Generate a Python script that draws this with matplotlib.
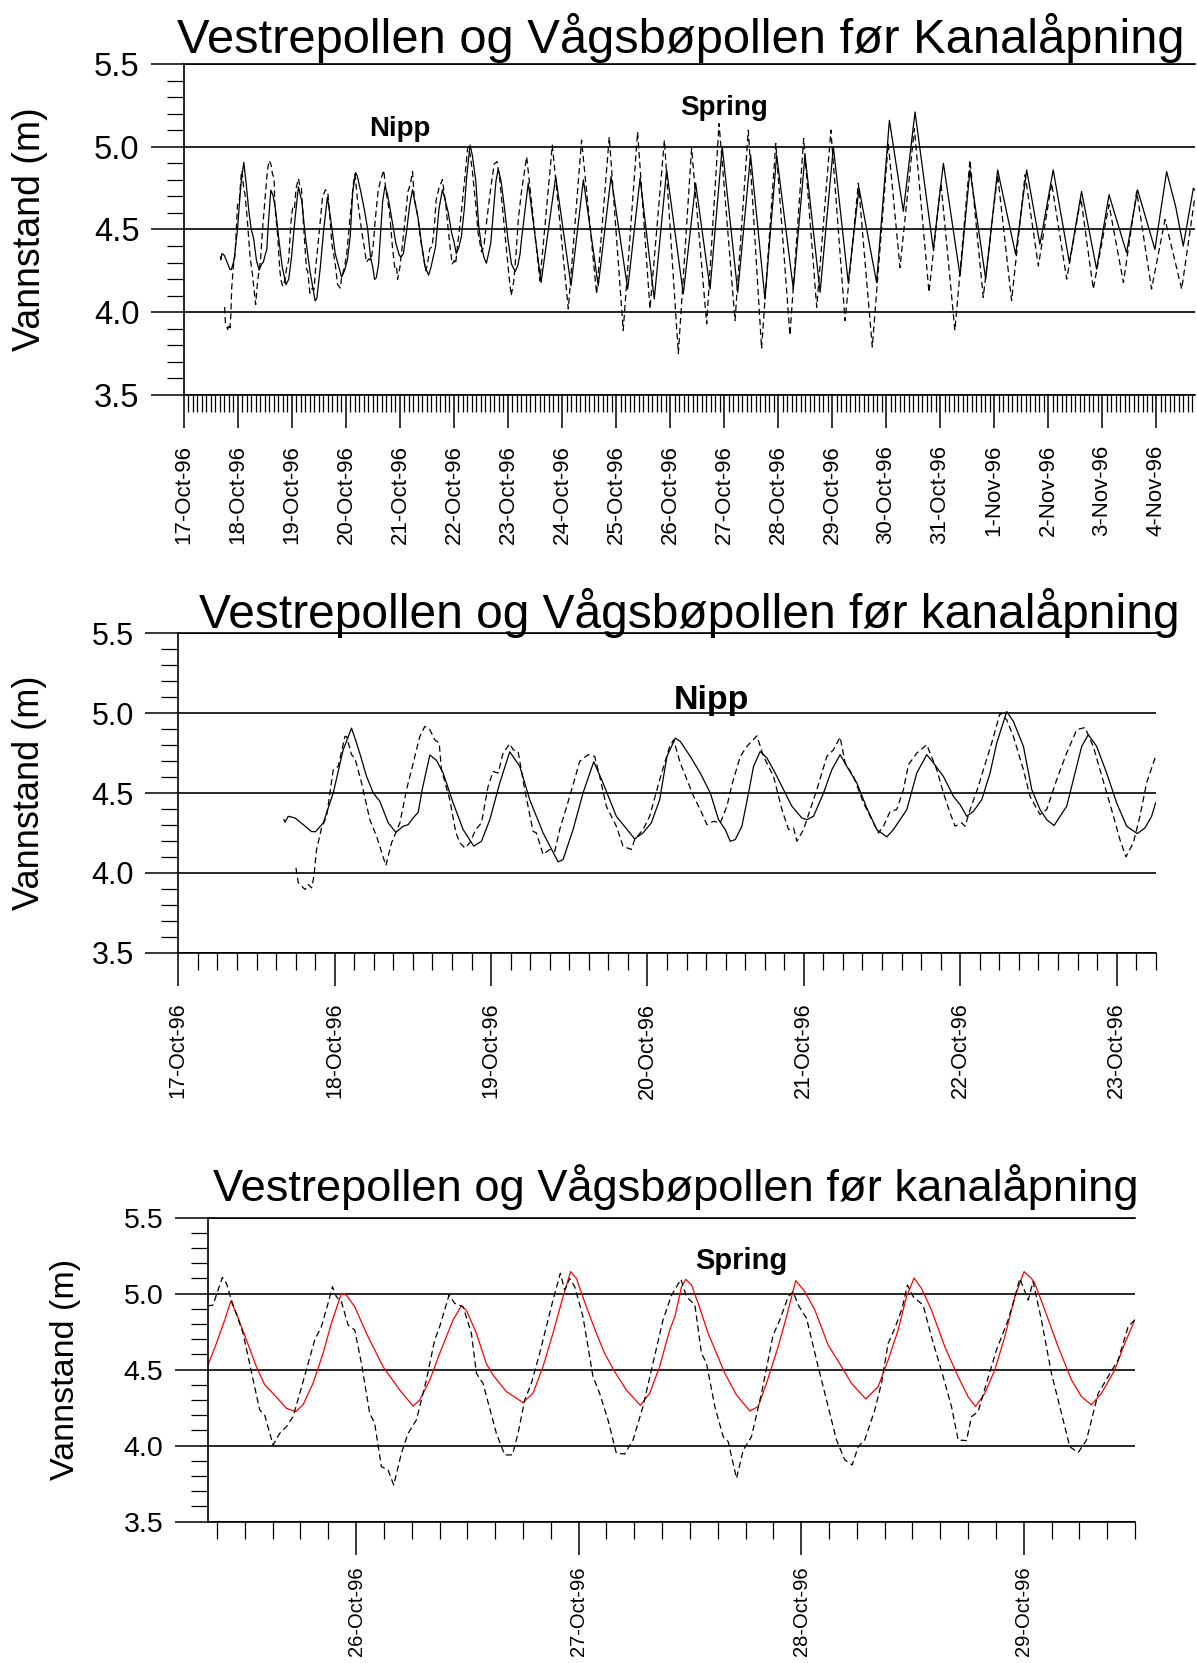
import pandas as pd
import matplotlib
matplotlib.use("Agg")
import matplotlib.pyplot as plt
import matplotlib.dates as mdates
from matplotlib.ticker import MultipleLocator, FormatStrFormatter

plt.rcParams["font.family"] = ["Liberation Sans", "DejaVu Sans"]

START = pd.Timestamp("1996-10-17 00:00")   # hours below count from here
START26 = pd.Timestamp("1996-10-26 00:00")  # panel 3 hours count from here

# ---------------------------------------------------------------
# Vannstand 17-23 Oct, hours since 17-Oct 00:00
# ---------------------------------------------------------------
vest_h = [16.2, 16.36, 16.87, 17.89, 19.17, 20.45, 21.06, 22.24, 23.77, 25.3,
          26.58, 27.35, 27.96, 28.88, 29.91, 30.93, 32.21, 33.38, 34.51, 35.27,
          36.04, 36.81, 37.42, 38.6, 39.62, 40.64, 42.17, 43.71, 45.34, 46.52,
          47.8, 49.33, 50.86, 52.4, 53.93, 55.98, 58.28, 59.04, 60.58, 62.11,
          63.75, 65.18, 67.22, 70.03, 71.31, 72.59, 73.87, 74.99, 76.27, 77.03,
          78.57, 80.1, 81.64, 82.91, 83.94, 84.7, 85.47, 86.49, 87.51, 88.28,
          89.3, 90.33, 91.6, 92.88, 94.16, 95.69, 96.46, 97.48, 99.02, 100.29,
          101.57, 102.59, 104.13, 105.66, 107.2, 108.73, 109.75, 111.8, 113.33, 114.86,
          115.89, 117.42, 118.95, 119.98, 121.0, 122.02, 123.3, 124.58, 125.6, 127.14,
          128.16, 129.7, 130.98, 132.25, 133.28, 134.4, 135.32, 136.34, 137.36, 138.64,
          139.66, 140.94, 142.47, 144.01, 145.54, 147.18, 148.35, 149.37, 149.99]
vest_v = [4.333, 4.317, 4.354, 4.344, 4.302, 4.258, 4.258, 4.313, 4.5, 4.771,
          4.906, 4.813, 4.733, 4.604, 4.5, 4.448, 4.313, 4.254, 4.292, 4.302,
          4.344, 4.379, 4.521, 4.738, 4.704, 4.625, 4.438, 4.271, 4.167, 4.198,
          4.333, 4.563, 4.758, 4.667, 4.458, 4.25, 4.069, 4.083, 4.271, 4.5,
          4.696, 4.563, 4.354, 4.213, 4.25, 4.313, 4.458, 4.729, 4.844, 4.823,
          4.729, 4.625, 4.5, 4.333, 4.271, 4.198, 4.208, 4.292, 4.5, 4.667,
          4.76, 4.719, 4.625, 4.521, 4.417, 4.344, 4.333, 4.354, 4.5, 4.646,
          4.74, 4.667, 4.563, 4.406, 4.271, 4.225, 4.271, 4.396, 4.625, 4.74,
          4.688, 4.604, 4.479, 4.427, 4.354, 4.385, 4.458, 4.625, 4.813, 5.01,
          4.948, 4.792, 4.521, 4.396, 4.333, 4.296, 4.354, 4.417, 4.583, 4.792,
          4.865, 4.792, 4.625, 4.438, 4.292, 4.246, 4.281, 4.354, 4.438]

vaag_h = [18.05, 18.4, 19.43, 19.94, 20.45, 20.81, 21.21, 21.98, 22.75, 23.77,
          24.54, 25.56, 25.82, 26.58, 27.09, 28.12, 29.39, 30.42, 31.85, 32.72,
          34.0, 35.02, 37.06, 37.83, 38.6, 39.36, 40.03, 40.38, 41.66, 42.58,
          43.2, 43.96, 44.73, 45.65, 46.52, 47.54, 48.31, 49.08, 49.84, 50.86,
          51.38, 52.14, 53.16, 54.44, 54.95, 55.98, 57.0, 57.77, 58.53, 60.07,
          61.6, 62.88, 63.9, 64.67, 65.69, 67.22, 68.25, 69.52, 70.03, 71.31,
          72.33, 73.87, 75.4, 76.0, 77.03, 79.08, 80.1, 81.12, 82.15, 83.17,
          84.19, 84.96, 86.24, 87.26, 88.79, 89.81, 91.35, 92.63, 93.65, 94.42,
          94.93, 95.95, 96.97, 97.99, 99.53, 100.55, 101.57, 102.34, 103.62, 105.15,
          106.68, 107.45, 108.22, 109.24, 110.26, 111.28, 112.05, 113.33, 114.86, 115.37,
          116.4, 117.42, 118.44, 119.21, 120.23, 120.74, 121.51, 122.79, 123.55, 124.83,
          126.11, 127.13, 128.16, 129.69, 130.71, 132.24, 133.27, 134.8, 136.33, 137.87,
          139.14, 140.42, 141.44, 143.23, 144.51, 145.43, 146.56, 147.58, 148.6, 149.98]
vaag_v = [4.031, 3.938, 3.896, 3.927, 3.906, 3.979, 4.146, 4.281, 4.354, 4.646,
          4.667, 4.854, 4.854, 4.74, 4.719, 4.563, 4.333, 4.229, 4.046, 4.188,
          4.313, 4.521, 4.854, 4.917, 4.896, 4.833, 4.813, 4.646, 4.458, 4.254,
          4.188, 4.156, 4.188, 4.271, 4.313, 4.542, 4.635, 4.625, 4.75, 4.808,
          4.771, 4.76, 4.521, 4.26, 4.25, 4.115, 4.146, 4.135, 4.271, 4.479,
          4.698, 4.74, 4.729, 4.604, 4.417, 4.292, 4.167, 4.146, 4.208, 4.271,
          4.354, 4.583, 4.79, 4.833, 4.688, 4.479, 4.396, 4.302, 4.323, 4.313,
          4.417, 4.552, 4.729, 4.792, 4.858, 4.729, 4.604, 4.396, 4.271, 4.281,
          4.198, 4.271, 4.396, 4.521, 4.729, 4.771, 4.85, 4.688, 4.604, 4.438,
          4.313, 4.25, 4.292, 4.385, 4.396, 4.521, 4.677, 4.75, 4.802, 4.75,
          4.646, 4.5, 4.375, 4.292, 4.313, 4.292, 4.396, 4.542, 4.646, 4.813,
          5.0, 4.958, 4.854, 4.646, 4.479, 4.365, 4.396, 4.583, 4.75, 4.896,
          4.91, 4.792, 4.646, 4.396, 4.208, 4.10, 4.188, 4.354, 4.563, 4.729]

# ---------------------------------------------------------------
# Vannstand 23 Oct - 4 Nov, hours since 17-Oct 00:00
# ---------------------------------------------------------------
vest_late_h = [153.0, 158.7, 165.2, 172.0, 177.5, 184.1, 189.8, 197.2, 202.7, 209.0,
               214.5, 221.9, 227.4, 233.8, 239.2, 246.1, 251.8, 258.2, 263.4, 270.8,
               276.0, 282.7, 288.6, 295.2, 300.0, 307.8, 313.5, 319.7, 324.9, 333.0,
               337.5, 344.9, 349.3, 356.3, 361.6, 369.6, 374.5, 380.4, 386.3, 393.5,
               398.9, 405.6, 411.1, 418.9, 423.8, 431.5, 436.7, 440.7, 444.1, 448.6,
               450.2]
vest_late_v = [4.78, 4.18, 4.82, 4.16, 4.80, 4.16, 4.82, 4.14, 4.81, 4.08,
               4.86, 4.11, 4.78, 4.14, 5.00, 4.12, 4.95, 4.08, 4.95, 4.14,
               4.95, 4.12, 5.00, 4.18, 4.75, 4.18, 5.16, 4.61, 5.21, 4.38,
               4.90, 4.22, 4.86, 4.20, 4.86, 4.35, 4.86, 4.41, 4.86, 4.30,
               4.73, 4.26, 4.71, 4.36, 4.74, 4.38, 4.85, 4.64, 4.40, 4.75,
               4.72]

vaag_late_h = [152.3, 158.2, 163.7, 170.8, 176.7, 183.4, 189.0, 195.2, 201.6, 207.1,
               213.5, 219.7, 225.6, 232.3, 237.8, 244.9, 250.8, 256.7, 263.0, 269.3,
               275.4, 281.2, 287.5, 293.8, 299.7, 305.9, 313.0, 318.2, 324.6, 331.1,
               336.4, 342.6, 349.3, 355.2, 361.6, 367.8, 373.8, 379.7, 385.6, 392.3,
               398.6, 404.1, 411.1, 417.5, 423.4, 430.0, 436.0, 443.4, 449.3]
vaag_late_v = [4.94, 4.19, 5.01, 4.02, 5.04, 4.11, 5.06, 3.89, 5.09, 4.02,
               5.04, 3.75, 4.99, 3.93, 5.14, 3.95, 5.10, 3.78, 5.02, 3.86,
               5.05, 4.03, 5.10, 3.95, 4.78, 3.79, 5.02, 4.27, 5.11, 4.12,
               4.78, 3.89, 4.92, 4.09, 4.83, 4.07, 4.83, 4.28, 4.78, 4.20,
               4.69, 4.14, 4.65, 4.18, 4.73, 4.14, 4.56, 4.14, 4.70]

# ---------------------------------------------------------------
# Spring period (bottom panel), hours since 26-Oct 00:00
# ---------------------------------------------------------------
red_h = [-16.03, -15.06, -14.16, -13.51, -12.9, -11.82, -10.75, -9.85, -8.59, -7.51,
         -6.5, -5.71, -4.64, -3.56, -2.66, -1.58, -1.04, -0.14, 1.11, 2.91,
         4.71, 6.15, 6.86, 7.94, 9.02, 10.46, 11.36, 11.9, 12.97, 14.05,
         14.77, 16.21, 17.11, 18.0, 19.08, 20.16, 21.24, 22.32, 23.14, 23.76,
         24.83, 25.91, 26.81, 27.89, 29.15, 30.66, 31.66, 32.74, 33.82, 34.38,
         35.1, 35.56, 36.18, 36.9, 37.97, 39.77, 41.03, 42.47, 43.36, 44.26,
         45.52, 46.42, 47.42, 48.4, 49.47, 50.91, 52.35, 53.43, 54.97, 56.3,
         57.38, 58.46, 59.36, 60.18, 60.97, 62.05, 63.49, 64.93, 66.0, 66.8,
         67.8, 68.88, 69.96, 71.04, 72.04, 72.83, 73.19, 74.27, 75.71, 77.15,
         78.23, 79.3, 80.38, 81.82, 82.9, 83.98]
red_v = [4.52, 4.673, 4.827, 4.952, 4.87, 4.695, 4.52, 4.40, 4.32, 4.246,
         4.224, 4.27, 4.41, 4.607, 4.805, 5.002, 4.99, 4.914, 4.74, 4.52,
         4.366, 4.26, 4.30, 4.43, 4.607, 4.827, 4.92, 4.89, 4.74, 4.54,
         4.465, 4.355, 4.32, 4.283, 4.344, 4.52, 4.74, 4.98, 5.145, 5.10,
         4.914, 4.74, 4.607, 4.487, 4.366, 4.265, 4.344, 4.52, 4.76, 4.849,
         5.046, 5.094, 5.057, 4.936, 4.739, 4.476, 4.333, 4.228, 4.257, 4.41,
         4.651, 4.849, 5.086, 5.013, 4.893, 4.662, 4.52, 4.41, 4.307, 4.388,
         4.564, 4.761, 4.98, 5.103, 5.035, 4.893, 4.651, 4.454, 4.322, 4.257,
         4.344, 4.498, 4.717, 4.98, 5.145, 5.10, 5.068, 4.893, 4.651, 4.432,
         4.322, 4.268, 4.344, 4.498, 4.673, 4.827]

dash_h = [-16.03, -15.42, -14.88, -14.41, -13.98, -13.44, -12.18, -11.1, -10.39, -9.85,
          -8.95, -8.23, -7.51, -6.79, -6.07, -5.36, -4.46, -3.74, -3.02, -2.55,
          -2.12, -1.58, -0.86, -0.14, 0.58, 1.47, 2.01, 2.73, 3.45, 4.06,
          4.89, 5.61, 6.51, 7.58, 8.48, 9.02, 10.03, 10.64, 11.54, 12.44,
          12.98, 13.69, 15.13, 16.03, 16.86, 17.47, 18.19, 18.9, 19.8, 20.7,
          21.24, 22.03, 22.5, 23.04, 23.58, 24.47, 25.55, 26.27, 27.17, 28.07,
          28.97, 29.87, 30.94, 32.02, 33.1, 34.02, 35.03, 35.64, 36.54, 37.25,
          37.79, 38.69, 39.59, 40.13, 41.03, 41.75, 42.64, 43.72, 44.98, 45.7,
          46.6, 47.14, 47.68, 48.58, 49.83, 50.91, 51.81, 52.71, 53.5, 54.15,
          54.86, 55.94, 56.66, 57.38, 58.1, 58.89, 59.46, 60.08, 61.15, 62.05,
          63.31, 64.21, 64.93, 65.83, 66.37, 67.08, 67.98, 69.06, 70.32, 70.97,
          71.58, 72.48, 73.01, 73.91, 74.99, 76.25, 76.97, 77.87, 78.77, 80.03,
          81.1, 82.18, 83.26, 83.98]
dash_v = [4.919, 4.925, 5.024, 5.107, 5.068, 4.958, 4.739, 4.432, 4.235, 4.20,
          4.004, 4.081, 4.125, 4.191, 4.344, 4.498, 4.695, 4.783, 4.936, 5.046,
          4.98, 4.947, 4.794, 4.761, 4.542, 4.213, 4.147, 3.862, 3.84, 3.741,
          3.95, 4.081, 4.169, 4.432, 4.695, 4.783, 4.991, 4.936, 4.914, 4.739,
          4.476, 4.41, 4.081, 3.939, 3.939, 4.081, 4.30, 4.41, 4.607, 4.827,
          4.958, 5.134, 5.024, 5.10, 5.046, 4.849, 4.454, 4.344, 4.169, 3.95,
          3.945, 4.037, 4.257, 4.542, 4.827, 4.99, 5.094, 4.98, 4.925, 4.607,
          4.542, 4.257, 4.059, 4.026, 3.785, 3.97, 4.059, 4.344, 4.728, 4.827,
          4.98, 5.013, 4.925, 4.838, 4.52, 4.257, 4.037, 3.906, 3.873, 3.993,
          4.037, 4.235, 4.41, 4.673, 4.772, 4.904, 5.057, 4.98, 4.925, 4.717,
          4.454, 4.257, 4.037, 4.033, 4.191, 4.224, 4.41, 4.629, 4.827, 4.958,
          5.10, 4.958, 5.079, 4.827, 4.476, 4.169, 3.993, 3.954, 4.037, 4.344,
          4.454, 4.564, 4.783, 4.827]

TITLE_UPPER = "Vestrepollen og Vågsbøpollen før Kanalåpning"
TITLE_LOWER = "Vestrepollen og Vågsbøpollen før kanalåpning"
YLABEL = "Vannstand (m)"


def stamp(base, hours):
    return base + pd.to_timedelta(hours, unit="h")


def style(ax, minor_step, xsize, xpad, ysize, ylab_x, ylab_size):
    ax.set_ylim(3.5, 5.5)
    ax.yaxis.set_major_locator(MultipleLocator(0.5))
    ax.yaxis.set_minor_locator(MultipleLocator(0.1))
    ax.yaxis.set_major_formatter(FormatStrFormatter("%.1f"))
    ax.xaxis.set_major_locator(mdates.DayLocator())
    ax.xaxis.set_minor_locator(mdates.HourLocator(byhour=range(0, 24, minor_step)))
    ax.xaxis.set_major_formatter(mdates.DateFormatter("%-d-%b-%y"))
    ax.grid(axis="y", which="major", color="k", lw=1.2)
    ax.set_axisbelow(True)
    ax.spines["right"].set_visible(False)
    for s in ("left", "bottom", "top"):
        ax.spines[s].set_linewidth(1.2)
    ax.tick_params(which="major", length=24, width=1.1, direction="out")
    ax.tick_params(which="minor", length=12, width=0.9, direction="out")
    ax.tick_params(axis="y", labelsize=ysize, pad=8)
    ax.tick_params(axis="x", labelrotation=90, labelsize=xsize, pad=xpad)
    ax.set_ylabel(YLABEL, fontsize=ylab_size, va="center")
    ax.yaxis.set_label_coords(ylab_x, 0.5)


fig = plt.figure(figsize=(11.97, 16.63), dpi=100)

# ---------------- top: whole period ----------------
ax1 = fig.add_axes([0.1537, 0.7625, 0.8446, 0.1990])
ax1.plot(stamp(START, vest_h + vest_late_h), vest_v + vest_late_v,
         color="k", lw=0.9)
ax1.plot(stamp(START, vaag_h + vaag_late_h), vaag_v + vaag_late_v,
         color="k", lw=0.9, dashes=(5, 3))
ax1.set_xlim(START, stamp(START, 449.3))
style(ax1, 2, 16, 12, 23.5, -0.1526, 27)
ax1.text(stamp(START, 96), 5.065, "Nipp", fontsize=20, fontweight="bold",
         ha="center", va="baseline")
ax1.text(stamp(START, 240), 5.19, "Spring", fontsize=20, fontweight="bold",
         ha="center", va="baseline")
fig.text(0.569, 0.9681, TITLE_UPPER, fontsize=35.2, ha="center", va="baseline")

# ---------------- middle: nipp ----------------
ax2 = fig.add_axes([0.1490, 0.4271, 0.8165, 0.1921])
ax2.plot(stamp(START, vest_h), vest_v, color="k", lw=0.9)
ax2.plot(stamp(START, vaag_h), vaag_v, color="k", lw=0.9, dashes=(5, 3))
ax2.set_xlim(START, stamp(START, 150))
style(ax2, 3, 15.5, 12, 22, -0.152, 26)
ax2.text(stamp(START, 81.8), 5.025, "Nipp", fontsize=24.5, fontweight="bold",
         ha="center", va="baseline")
fig.text(0.5756, 0.6226, TITLE_LOWER, fontsize=34.5, ha="center", va="baseline")

# ---------------- bottom: spring ----------------
ax3 = fig.add_axes([0.1735, 0.0850, 0.7747, 0.1828])
ax3.plot(stamp(START26, red_h), red_v, color="red", lw=0.9)
ax3.plot(stamp(START26, dash_h), dash_v, color="k", lw=0.9, dashes=(5, 3))
ax3.set_xlim(stamp(START26, -16), stamp(START26, 84))
style(ax3, 3, 14.5, 8, 20.5, -0.1531, 24.5)
ax3.text(stamp(START26, 41.5), 5.16, "Spring", fontsize=21, fontweight="bold",
         ha="center", va="baseline")
fig.text(0.5648, 0.2778, TITLE_LOWER, fontsize=32.6, ha="center", va="baseline")

fig.savefig("out.png", dpi=100)
